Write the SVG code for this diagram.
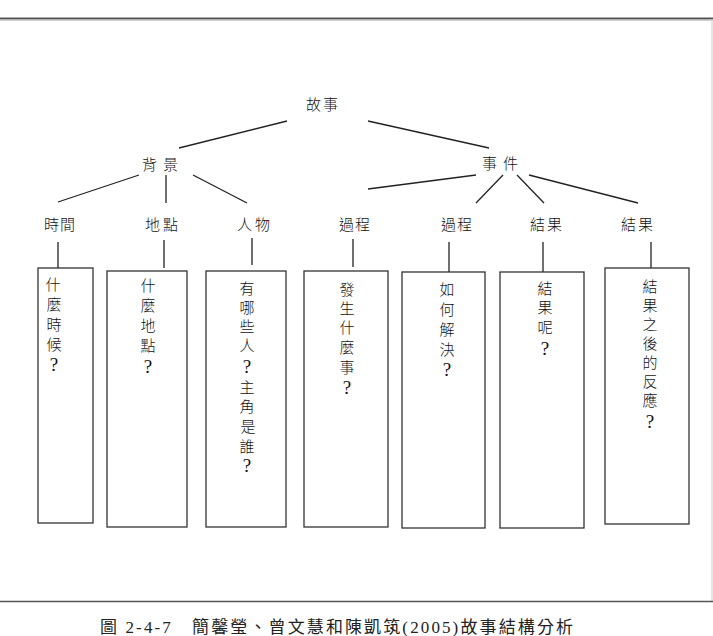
<svg xmlns="http://www.w3.org/2000/svg" width="713" height="636" viewBox="0 0 713 636">
<style>
.t{font-family:"Noto Sans CJK TC","Noto Sans CJK SC",sans-serif;font-size:15px;font-weight:300;fill:#111;text-anchor:middle;dominant-baseline:central}
.v{font-family:"Noto Sans CJK TC","Noto Sans CJK SC",sans-serif;font-size:15px;font-weight:300;fill:#111;text-anchor:middle;dominant-baseline:central}
.q{font-family:"Liberation Serif",serif;font-size:19px;font-weight:normal}
.box{fill:#fff;stroke:#333;stroke-width:1.3}
.ln{stroke:#222;stroke-width:1.3;fill:none}
.cap{font-family:"Liberation Serif","Noto Sans CJK TC",serif;font-size:17px;fill:#222}
</style>
<rect width="713" height="636" fill="#fff"/>
<line x1="0" y1="18.5" x2="713" y2="18.5" stroke="#555" stroke-width="2"/>
<line x1="0" y1="20" x2="713" y2="20" stroke="#aaa" stroke-width="1"/>
<line x1="712" y1="19" x2="712" y2="601" stroke="#ccc" stroke-width="1"/>
<line x1="0" y1="601.5" x2="713" y2="601.5" stroke="#555" stroke-width="1.5"/>

<g id="connectors">
<line class="ln" x1="287" y1="121" x2="179" y2="148"/>
<line class="ln" x1="368" y1="121" x2="489" y2="148"/>
<line class="ln" x1="139" y1="175" x2="58" y2="202"/>
<line class="ln" x1="166" y1="175" x2="166" y2="203"/>
<line class="ln" x1="193" y1="175" x2="247" y2="203"/>
<line class="ln" x1="476" y1="175" x2="368" y2="189"/>
<line class="ln" x1="503" y1="175" x2="476" y2="203"/>
<line class="ln" x1="517" y1="175" x2="544" y2="203"/>
<line class="ln" x1="529" y1="175" x2="638" y2="203"/>
<line class="ln" x1="58" y1="242" x2="58" y2="268"/>
<line class="ln" x1="164" y1="240" x2="164" y2="268"/>
<line class="ln" x1="252" y1="238" x2="252" y2="265"/>
<line class="ln" x1="353" y1="239" x2="353" y2="267"/>
<line class="ln" x1="449" y1="242" x2="449" y2="272"/>
<line class="ln" x1="543" y1="242" x2="543" y2="272"/>
<line class="ln" x1="651" y1="242" x2="651" y2="270"/>
</g>

<g id="n-story"><text class="t" x="323" y="103" letter-spacing="2">故事</text></g>
<g id="n-bg"><text class="t" x="163" y="163" letter-spacing="6">背景</text></g>
<g id="n-event"><text class="t" x="503" y="162" letter-spacing="6">事件</text></g>
<g id="n-time"><text class="t" x="60" y="223" letter-spacing="1">時間</text></g>
<g id="n-place"><text class="t" x="163" y="223" letter-spacing="3">地點</text></g>
<g id="n-people"><text class="t" x="255" y="223" letter-spacing="3">人物</text></g>
<g id="n-proc1"><text class="t" x="355" y="223" letter-spacing="1">過程</text></g>
<g id="n-proc2"><text class="t" x="457" y="223" letter-spacing="1">過程</text></g>
<g id="n-res1"><text class="t" x="547" y="223" letter-spacing="2">結果</text></g>
<g id="n-res2"><text class="t" x="638" y="223" letter-spacing="2">結果</text></g>

<g id="b-time">
<rect class="box" x="38" y="268" width="55" height="255"/>
<text class="v"><tspan x="53" y="283">什</tspan><tspan x="54" y="303">麼</tspan><tspan x="54" y="323">時</tspan><tspan x="54" y="343">候</tspan><tspan class="q" x="54" y="364">?</tspan></text>
</g>
<g id="b-place">
<rect class="box" x="107" y="271" width="80" height="256"/>
<text class="v"><tspan x="148" y="284">什</tspan><tspan x="148" y="304">麼</tspan><tspan x="148" y="324">地</tspan><tspan x="148" y="344">點</tspan><tspan class="q" x="148" y="366">?</tspan></text>
</g>
<g id="b-people">
<rect class="box" x="206" y="271" width="80" height="256"/>
<text class="v"><tspan x="247" y="287">有</tspan><tspan x="247" y="306">哪</tspan><tspan x="247" y="325">些</tspan><tspan x="247" y="344">人</tspan><tspan class="q" x="247" y="366">?</tspan><tspan x="247" y="386">主</tspan><tspan x="247" y="405">角</tspan><tspan x="248" y="425">是</tspan><tspan x="247" y="445">誰</tspan><tspan class="q" x="247" y="465">?</tspan></text>
</g>
<g id="b-proc1">
<rect class="box" x="304" y="271" width="84" height="256"/>
<text class="v"><tspan x="347" y="288">發</tspan><tspan x="347" y="307">生</tspan><tspan x="347" y="326">什</tspan><tspan x="347" y="346">麼</tspan><tspan x="347" y="366">事</tspan><tspan class="q" x="347" y="387">?</tspan></text>
</g>
<g id="b-proc2">
<rect class="box" x="402" y="272" width="83" height="256"/>
<text class="v"><tspan x="447" y="288">如</tspan><tspan x="447" y="308">何</tspan><tspan x="447" y="328">解</tspan><tspan x="447" y="348">決</tspan><tspan class="q" x="447" y="369">?</tspan></text>
</g>
<g id="b-res1">
<rect class="box" x="500" y="272" width="84" height="256"/>
<text class="v"><tspan x="545" y="287">結</tspan><tspan x="545" y="306">果</tspan><tspan x="545" y="326">呢</tspan><tspan class="q" x="545" y="348">?</tspan></text>
</g>
<g id="b-res2">
<rect class="box" x="605" y="268" width="84" height="256"/>
<text class="v"><tspan x="650" y="285">結</tspan><tspan x="650" y="304">果</tspan><tspan x="650" y="323">之</tspan><tspan x="650" y="342">後</tspan><tspan x="650" y="361">的</tspan><tspan x="650" y="380">反</tspan><tspan x="650" y="399">應</tspan><tspan class="q" x="650" y="421">?</tspan></text>
</g>

<text class="cap" x="100" y="633" textLength="473" lengthAdjust="spacing">圖 2-4-7　簡馨瑩、曾文慧和陳凱筑(2005)故事結構分析</text>
</svg>
